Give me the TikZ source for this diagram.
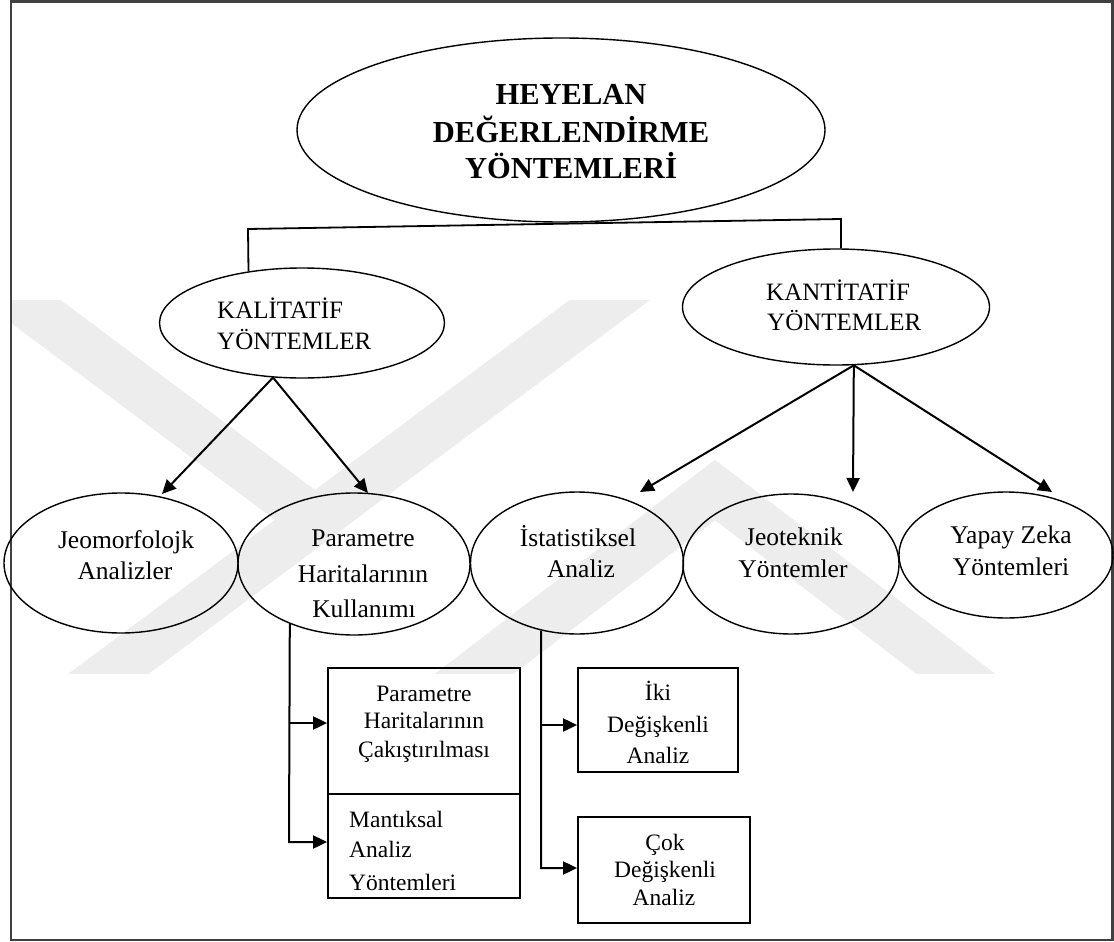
\documentclass[tikz,border=0pt]{standalone}
\usepackage{fontspec}
\setmainfont{Liberation Serif}
\usetikzlibrary{shapes.geometric,arrows.meta}
\begin{document}
\begin{tikzpicture}[x=1pt,y=-1pt,
  ell/.style={draw,ellipse,line width=1.4pt,inner sep=0pt},
  bx/.style={draw,rectangle,line width=1.8pt,inner sep=0pt},
  t/.style={font=\fontsize{25.5}{30}\selectfont,inner sep=0pt,anchor=base},
  tw/.style={font=\fontsize{25}{30}\selectfont,inner sep=0pt,anchor=base west},
  tb/.style={font=\fontsize{23.5}{28}\selectfont,inner sep=0pt,anchor=base},
  tbw/.style={font=\fontsize{23.5}{28}\selectfont,inner sep=0pt,anchor=base west},
  tt/.style={font=\fontsize{30.5}{36}\bfseries\selectfont,inner sep=0pt,anchor=base},
  arr/.style={line width=2pt,-{Triangle[length=14pt,width=13pt]}},
  ln/.style={line width=1.8pt},
  wm/.style={line width=48pt,color=black!7,line join=miter}]
\useasboundingbox (0,0) rectangle (1114,942);

% faint watermark
\begin{scope}
\clip (12,300) rectangle (1000,673);
\draw[wm] (650,270) -- (60,710);
\draw[wm] (-20,270) -- (318,522);
\draw[wm] (440,700) -- (715,490) -- (990,700);
\end{scope}

\draw[line width=2.5pt,color=black!75] (11,1.5) rectangle (1112.5,940);

% ellipses
\node[ell,minimum width=528pt,minimum height=184pt] (main) at (561,130) {};
\node[ell,minimum width=285pt,minimum height=110pt] (kal) at (302,323) {};
\node[ell,minimum width=307pt,minimum height=116pt] (kant) at (836,307) {};
\node[ell,minimum width=234pt,minimum height=140pt] (jeo) at (121,563) {};
\node[ell,minimum width=232pt,minimum height=142pt] (pm) at (354,564) {};
\node[ell,minimum width=213pt,minimum height=142pt] (ist) at (577,563) {};
\node[ell,minimum width=216pt,minimum height=140pt] (jt) at (791,564) {};
\node[ell,minimum width=214pt,minimum height=126pt] (yz) at (1006,555) {};

% boxes
\node[bx,minimum width=192pt,minimum height=126pt] (b1) at (424,731) {};
\node[bx,minimum width=192pt,minimum height=104pt] (b2) at (424,846) {};
\node[bx,minimum width=160pt,minimum height=104pt] (b3) at (658,720) {};
\node[bx,minimum width=172pt,minimum height=106pt] (b4) at (664,870) {};

% texts
\node[tt] (m1) at (571,104) {HEYELAN};
\node[tt] (m2) at (571,142) {DEĞERLENDİRME};
\node[tt] (m3) at (571,178) {YÖNTEMLERİ};
\node[tw] (k1) at (217,318) {KALİTATİF};
\node[tw] (k2) at (217,349) {YÖNTEMLER};
\node[tw] (q1) at (766,300) {KANTİTATİF};
\node[tw] (q2) at (767,330) {YÖNTEMLER};
\node[t] (j1) at (126,548) {Jeomorfolojk};
\node[t] (j2) at (125,579) {Analizler};
\node[t] (p1) at (363,546) {Parametre};
\node[t] (p2) at (363,582) {Haritalarının};
\node[t] (p3) at (364,617) {Kullanımı};
\node[t] (s1) at (578,546) {İstatistiksel};
\node[t] (s2) at (581,577) {Analiz};
\node[t] (g1) at (794,545) {Jeoteknik};
\node[t] (g2) at (793,577) {Yöntemler};
\node[t] (y1) at (1011,543) {Yapay Zeka};
\node[t] (y2) at (1011,575) {Yöntemleri};
\node[tb] (c1) at (424,701) {Parametre};
\node[tb] (c2) at (424,728) {Haritalarının};
\node[tb] (c3) at (424,757) {Çakıştırılması};
\node[tbw] (d1) at (349,827) {Mantıksal};
\node[tbw] (d2) at (349,857) {Analiz};
\node[tbw] (d3) at (349,890) {Yöntemleri};
\node[tb] (e1) at (658,700) {İki};
\node[tb] (e2) at (658,732) {Değişkenli};
\node[tb] (e3) at (658,763) {Analiz};
\node[tb] (f1) at (665,850) {Çok};
\node[tb] (f2) at (665,877) {Değişkenli};
\node[tb] (f3) at (664,905) {Analiz};

% connectors
\coordinate (tl) at (248,229);
\coordinate (tr) at (841,219);
\draw[ln] (kal.136.6) -- (tl) -- (tr) -- (kant.north -| tr);

\coordinate (t1) at (162,494);
\coordinate (t2) at (368,493);
\coordinate (t3) at (640,492);
\coordinate (t4) at (853,492);
\coordinate (t5) at (1052,492);
\draw[arr] (kal.-118.2) -- (t1);
\draw[arr] (kal.-118.2) -- (t2);
\draw[arr] (kant.-73.7) -- (t3);
\draw[arr] (kant.-73.7) -- (t4);
\draw[arr] (kant.-73.7) -- (t5);

\coordinate (pa) at (289,723);
\coordinate (pb) at (289,842);
\coordinate (sa) at (541,725);
\coordinate (sb) at (541,868);
\draw[arr] (pm.-137.9) -- (pb) -- (b2.west |- pb);
\draw[arr] (pa) -- (b1.west |- pa);
\draw[arr] (ist.-118.3) -- (sb) -- (b4.west |- sb);
\draw[arr] (sa) -- (b3.west |- sa);
\end{tikzpicture}
\end{document}
